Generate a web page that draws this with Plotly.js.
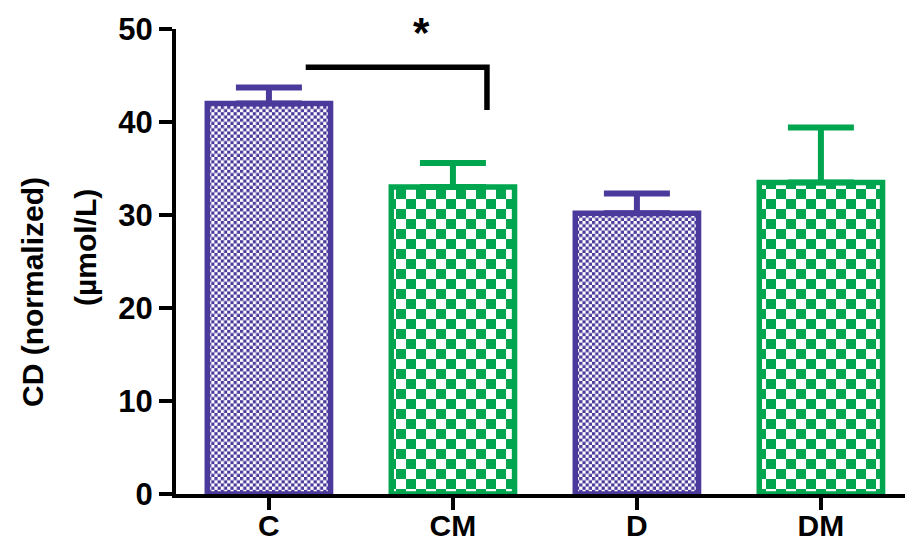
<!DOCTYPE html>
<html><head><meta charset="utf-8">
<script src="https://cdn.plot.ly/plotly-3.0.1.min.js"></script>
<style>html,body{margin:0;padding:0;background:#fff;} #chart{width:905px;height:544px;}</style>
</head><body><div id="chart"></div>
<script>
// ---- data ----
const categories = ['C', 'CM', 'D', 'DM'];
const means = [42.0, 33.0, 30.2, 33.5];
const errPlus = [1.7, 2.6, 2.1, 5.9];
const errMinus = [0, 0, 0, 0];
const yTickVals = [0, 10, 20, 30, 40, 50];
const yTickText = ['0', '10', '20', '30', '40', '50'];
// significance bracket between C and CM
const sigFrom = 0, sigTo = 1;
const sigLevel = 45.9, sigDropTo = 41.3;
const sigLabel = '*';

// ---- styles ----
const PURPLE = '#4B3A9B', GREEN = '#00A550';
const barColors = [PURPLE, GREEN, PURPLE, GREEN];
const checkSizes = [6.4, 20, 6.4, 20];
const FONT = 'Arial, "Liberation Sans", sans-serif';

const L = 176, R = 0, T = 29, B = 50, W = 905, H = 544;
const PW = W - L - R, PH = H - T - B;
const px2paperX = p => (p - L) / PW;
const px2paperY = p => (H - B - p) / PH;

const barTrace = {
  type: 'bar',
  x: categories.map((c, i) => i),
  y: means,
  width: 0.67,
  marker: {color: 'white', line: {color: barColors, width: 5.5}},
  hoverinfo: 'none'
};

const errTraces = categories.map((c, i) => ({
  type: 'bar', x: [i], y: [means[i]], width: 0.67,
  marker: {color: 'rgba(0,0,0,0)', line: {width: 0}},
  error_y: {type: 'data', symmetric: false, array: [errPlus[i]], arrayminus: [errMinus[i]],
            thickness: 6, width: 33, color: barColors[i]},
  hoverinfo: 'none', showlegend: false
}));

const layout = {
  width: W, height: H,
  margin: {l: L, r: R, t: T, b: B, pad: 0},
  paper_bgcolor: 'white', plot_bgcolor: 'white',
  showlegend: false,
  barmode: 'overlay',
  font: {family: FONT, color: 'black'},
  xaxis: {
    range: [-0.505, 3.457],
    tickvals: [0, 1, 2, 3], ticktext: categories,
    showgrid: false, zeroline: false,
    showline: true, linecolor: 'black', linewidth: 4,
    ticks: 'outside', ticklen: 12, tickwidth: 4, tickcolor: 'black',
    ticklabelstandoff: -10,
    tickfont: {family: FONT, size: 30, weight: 'bold', color: 'black'}, fixedrange: true
  },
  yaxis: {
    range: [0, 50],
    tickvals: yTickVals, ticktext: yTickText,
    showgrid: false, zeroline: false,
    showline: true, linecolor: 'black', linewidth: 4,
    ticks: 'outside', ticklen: 13, tickwidth: 4, tickcolor: 'black',
    tickfont: {family: FONT, size: 31, weight: 'bold', color: 'black'}, fixedrange: true
  },
  shapes: [{
    type: 'path', xref: 'x', yref: 'y',
    path: `M ${sigFrom + 0.2},${sigLevel} L ${sigTo + 0.185},${sigLevel} L ${sigTo + 0.185},${sigDropTo}`,
    line: {color: 'black', width: 5.5}
  }],
  annotations: [
    {xref: 'paper', yref: 'paper', x: px2paperX(32), y: px2paperY(292), text: 'CD (normalized)',
     textangle: -90, showarrow: false, xanchor: 'center', yanchor: 'middle',
     font: {family: FONT, size: 30, weight: 'bold', color: 'black'}},
    {xref: 'paper', yref: 'paper', x: px2paperX(85), y: px2paperY(248), text: '(µmol/L)',
     textangle: -90, showarrow: false, xanchor: 'center', yanchor: 'middle',
     font: {family: FONT, size: 30, weight: 'bold', color: 'black'}},
    {xref: 'x', yref: 'paper', x: (sigFrom + sigTo) / 2 + 0.33, y: px2paperY(32), text: sigLabel,
     showarrow: false, xanchor: 'center', yanchor: 'middle',
     font: {family: FONT, size: 42, weight: 'bold', color: 'black'}}
  ]
};

const gd = document.getElementById('chart');
Plotly.newPlot(gd, [barTrace].concat(errTraces), layout, {staticPlot: true, displayModeBar: false});
applyChecker();

function applyChecker() {
  const NS = 'http://www.w3.org/2000/svg';
  const svg = gd.querySelector('svg.main-svg');
  let defs = svg.querySelector('defs');
  if (!defs) { defs = document.createElementNS(NS, 'defs'); svg.insertBefore(defs, svg.firstChild); }
  const ids = barColors.map((col, i) => {
    const id = 'chk' + i;
    const s = checkSizes[i];
    const p = document.createElementNS(NS, 'pattern');
    p.setAttribute('id', id);
    p.setAttribute('patternUnits', 'userSpaceOnUse');
    p.setAttribute('width', s); p.setAttribute('height', s);
    const bg = document.createElementNS(NS, 'rect');
    bg.setAttribute('width', s); bg.setAttribute('height', s); bg.setAttribute('fill', 'white');
    p.appendChild(bg);
    [[0, 0], [s / 2, s / 2]].forEach(([x, y]) => {
      const r = document.createElementNS(NS, 'rect');
      r.setAttribute('x', x); r.setAttribute('y', y);
      r.setAttribute('width', s / 2); r.setAttribute('height', s / 2);
      r.setAttribute('fill', col);
      p.appendChild(r);
    });
    defs.appendChild(p);
    return id;
  });
  const traceGroups = gd.querySelectorAll('.barlayer .trace');
  const paths = traceGroups[0].querySelectorAll('.point path');
  paths.forEach((path, i) => {
    path.style.fill = 'url(#' + ids[i] + ')';
    path.style.fillOpacity = 1;
  });
}
</script>
</body></html>
